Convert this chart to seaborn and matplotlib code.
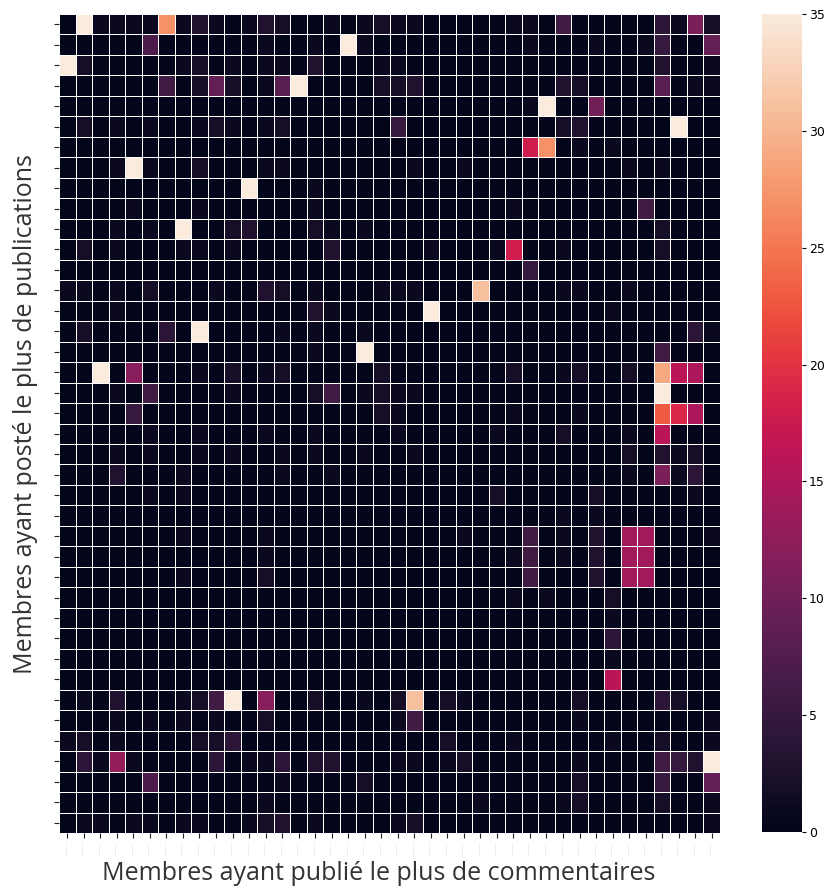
import numpy as np
import pandas as pd
import seaborn as sns
import matplotlib
matplotlib.use("Agg")
import matplotlib.pyplot as plt

# Non-zero counts per row (row index -> {column index: count}); all other cells are 0
row_values = {
    0: {1: 35, 2: 1, 3: 1, 4: 1, 5: 1, 6: 27, 7: 1, 8: 3, 9: 1, 11: 1, 12: 3, 13: 2, 16: 1, 18: 1, 19: 2,
        20: 1, 21: 1, 27: 1, 28: 1, 30: 6, 36: 4, 37: 1, 38: 11, 39: 2},
    1: {5: 7, 12: 1, 15: 1, 17: 35, 18: 1, 28: 1, 32: 1, 35: 1, 36: 5, 39: 9},
    2: {0: 35, 1: 2, 7: 1, 8: 2, 10: 1, 12: 1, 13: 1, 15: 3, 19: 1, 20: 1, 36: 3, 39: 1},
    3: {6: 6, 8: 2, 9: 9, 10: 2, 12: 1, 13: 8, 14: 35, 19: 2, 20: 2, 21: 3, 30: 3, 31: 2, 36: 8, 38: 1, 39: 1},
    4: {28: 1, 29: 35, 32: 10},
    5: {1: 2, 3: 1, 5: 1, 8: 1, 9: 2, 10: 1, 12: 1, 13: 2, 20: 5, 30: 2, 31: 3, 37: 35},
    6: {28: 18, 29: 27, 31: 1, 33: 1},
    7: {3: 1, 4: 35, 5: 1, 8: 2, 12: 1, 13: 1, 21: 1, 24: 1, 34: 1, 36: 1},
    8: {11: 35, 15: 1},
    9: {4: 1, 8: 1, 15: 1, 27: 1, 35: 6},
    10: {3: 1, 5: 1, 7: 35, 10: 2, 11: 3, 15: 2, 16: 1, 18: 1, 36: 2},
    11: {1: 2, 3: 1, 7: 1, 8: 1, 10: 1, 16: 3, 22: 1, 26: 1, 27: 18, 30: 1, 36: 2},
    12: {28: 5},
    13: {0: 1, 1: 1, 3: 1, 5: 2, 9: 1, 12: 3, 13: 2, 15: 1, 19: 1, 20: 1, 21: 1, 25: 31, 30: 1, 31: 1, 34: 1},
    14: {3: 1, 15: 3, 16: 1, 22: 35, 33: 1},
    15: {1: 2, 6: 4, 8: 35, 13: 1, 15: 1, 18: 1, 38: 4, 39: 1},
    16: {15: 1, 18: 35, 36: 6},
    17: {2: 35, 4: 12, 8: 1, 10: 2, 12: 1, 13: 2, 19: 2, 27: 2, 30: 1, 31: 2, 34: 2, 36: 29, 37: 16, 38: 15},
    18: {3: 1, 5: 6, 10: 1, 15: 2, 16: 6, 18: 1, 19: 2, 20: 1, 21: 1, 36: 35},
    19: {4: 5, 19: 2, 20: 1, 27: 1, 31: 1, 36: 23, 37: 19, 38: 15},
    20: {5: 1, 8: 1, 12: 1, 15: 1, 20: 1, 26: 1, 30: 2, 34: 1, 36: 16},
    21: {3: 1, 5: 1, 8: 1, 10: 1, 13: 1, 15: 1, 18: 1, 21: 1, 34: 2, 36: 3, 37: 1, 38: 2},
    22: {3: 3, 7: 1, 13: 1, 16: 1, 34: 1, 36: 11, 37: 1, 38: 4},
    23: {5: 1, 7: 1, 26: 2, 32: 2, 38: 1},
    24: {30: 1, 32: 1},
    25: {7: 1, 12: 1, 24: 1, 28: 6, 30: 1, 32: 3, 34: 14, 35: 14, 39: 1},
    26: {12: 1, 27: 1, 28: 6, 30: 1, 32: 3, 34: 14, 35: 14},
    27: {7: 1, 12: 2, 28: 6, 32: 3, 34: 14, 35: 14},
    28: {27: 1, 29: 1, 33: 2},
    29: {33: 1},
    30: {33: 4},
    31: {33: 1},
    32: {33: 16},
    33: {1: 1, 3: 3, 7: 1, 8: 2, 9: 6, 10: 35, 12: 12, 15: 2, 18: 1, 20: 2, 21: 31, 23: 2, 24: 1, 31: 2,
         36: 4, 37: 2},
    34: {3: 1, 5: 1, 7: 1, 9: 1, 12: 2, 20: 1, 21: 6, 31: 1, 39: 1},
    35: {0: 1, 1: 2, 3: 1, 8: 2, 9: 2, 10: 4, 23: 2, 27: 1, 33: 1, 36: 2, 39: 1},
    36: {1: 4, 2: 1, 3: 13, 4: 1, 9: 4, 11: 1, 12: 1, 13: 4, 15: 3, 16: 3, 20: 1, 21: 1, 23: 1, 24: 2,
         31: 1, 36: 6, 37: 5, 38: 3, 39: 35},
    37: {5: 7, 13: 1, 18: 2, 31: 2, 36: 5, 39: 9},
    38: {12: 1, 25: 1, 30: 1, 31: 2, 36: 2, 39: 1},
    39: {1: 1, 2: 1, 4: 1, 5: 1, 7: 1, 8: 1, 11: 1, 12: 2, 13: 3, 15: 1, 20: 1, 21: 2, 39: 1},
}

posters = [f"Membre P{i + 1}" for i in range(40)]
commenters = [f"Membre C{j + 1}" for j in range(40)]

matrix = np.zeros((len(posters), len(commenters)))
for r, cols in row_values.items():
    for c, v in cols.items():
        matrix[r, c] = v
df = pd.DataFrame(matrix, index=posters, columns=commenters)

W, H = 827, 893
fig = plt.figure(figsize=(W / 100, H / 100), dpi=100)
ax = fig.add_axes([59 / W, (H - 833) / H, (720 - 59) / W, (833 - 14) / H])
cax = fig.add_axes([762 / W, (H - 832) / H, 40 / W, (832 - 14) / H])

sns.heatmap(df, ax=ax, cbar_ax=cax, cmap="rocket", vmin=0, vmax=35,
            linewidths=0.45, linecolor="white", xticklabels=True, yticklabels=True)

ax.set_yticklabels([""] * len(posters))
ax.set_xticklabels(commenters, fontsize=1.5, color="#c8c8c8", rotation=90)
ax.tick_params(axis="both", length=3.5, width=0.8, color="#222222")

lab_font = dict(family=["Open Sans", "DejaVu Sans"], size=18, color="#333333")
ax.set_xlabel("Membres ayant publié le plus de commentaires", **lab_font)
ax.set_ylabel("Membres ayant posté le plus de publications", **lab_font)
ax.xaxis.set_label_coords(0.484, -0.034)
ax.yaxis.set_label_coords(-0.032, 0.512)

cax.tick_params(labelsize=9, length=3, width=0.8, pad=2)
cax.set_yticks([0, 5, 10, 15, 20, 25, 30, 35])

fig.savefig("out.png", dpi=100)
